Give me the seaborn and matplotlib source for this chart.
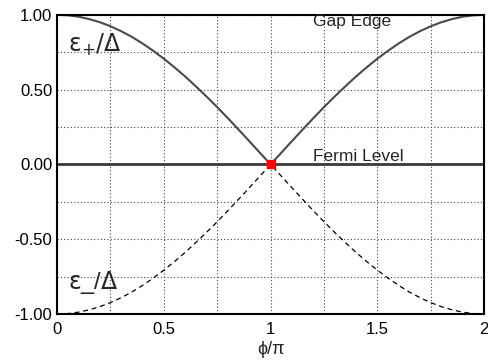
import numpy as np
import pandas as pd
import seaborn as sns
import matplotlib.pyplot as plt
from matplotlib.ticker import MultipleLocator, FixedLocator

# valores
phi = [0.00, 0.05, 0.10, 0.15, 0.20, 0.25, 0.30, 0.35, 0.40, 0.45, 0.50,
       0.55, 0.60, 0.65, 0.70, 0.75, 0.80, 0.85, 0.90, 0.95, 1.00,
       1.05, 1.10, 1.15, 1.20, 1.25, 1.30, 1.35, 1.40, 1.45, 1.50,
       1.55, 1.60, 1.65, 1.70, 1.75, 1.80, 1.85, 1.90, 1.95, 2.00]
gap_edge = [1.000, 0.997, 0.988, 0.972, 0.951, 0.924, 0.891, 0.853, 0.809, 0.760, 0.707,
            0.649, 0.588, 0.522, 0.454, 0.383, 0.309, 0.233, 0.156, 0.078, 0.000,
            0.078, 0.156, 0.233, 0.309, 0.383, 0.454, 0.522, 0.588, 0.649, 0.707,
            0.760, 0.809, 0.853, 0.891, 0.924, 0.951, 0.972, 0.988, 0.997, 1.000]
lower_edge = [-1.000, -0.997, -0.988, -0.972, -0.951, -0.924, -0.891, -0.853, -0.809, -0.760, -0.707,
              -0.649, -0.588, -0.522, -0.454, -0.383, -0.309, -0.233, -0.156, -0.078, 0.000,
              -0.078, -0.156, -0.233, -0.309, -0.383, -0.454, -0.522, -0.588, -0.649, -0.707,
              -0.760, -0.809, -0.853, -0.891, -0.924, -0.951, -0.972, -0.988, -0.997, -1.000]
fermi_x = [0.0, 2.0]
fermi_y = [0.0, 0.0]
cross_x = [1.0]
cross_y = [0.0]

x_ticks = [0, 0.5, 1, 1.5, 2]
x_labels = ["0", "0.5", "1", "1.5", "2"]
y_ticks = [-1.0, -0.5, 0.0, 0.5, 1.0]
y_labels = ["-1.00", "-0.50", "0.00", "0.50", "1.00"]

df = pd.DataFrame({"phi": phi, "upper": gap_edge, "lower": lower_edge})

sns.set_style("white")
plt.rcParams['font.family'] = ['Liberation Sans', 'DejaVu Sans']
plt.rcParams['mathtext.fontset'] = 'dejavusans'

fig = plt.figure(figsize=(4.88, 3.63), dpi=100)
ax = fig.add_axes([0.117, 0.135, 0.875, 0.824])

sns.lineplot(data=df, x="phi", y="upper", ax=ax, color="#4a4a4a", linewidth=1.5)
sns.lineplot(data=df, x="phi", y="lower", ax=ax, color="black", linewidth=0.9,
             linestyle=(0, (4, 3)))
sns.lineplot(x=fermi_x, y=fermi_y, ax=ax, color="#3a3a3a", linewidth=2.0)
ax.plot(cross_x, cross_y, marker="s", color="red", markersize=6, linestyle="none", zorder=5)

ax.set_xlim(0, 2)
ax.set_ylim(-1, 1)
ax.xaxis.set_major_locator(FixedLocator(x_ticks))
ax.set_xticklabels(x_labels)
ax.yaxis.set_major_locator(FixedLocator(y_ticks))
ax.set_yticklabels(y_labels)
ax.xaxis.set_minor_locator(MultipleLocator(0.25))
ax.yaxis.set_minor_locator(MultipleLocator(0.25))
ax.grid(True, which="both", color="#444444", linestyle=(0, (1, 2)), linewidth=0.8)
ax.tick_params(which="both", direction="in", length=5, width=1, labelsize=12,
               colors="black", top=False, right=False)
ax.tick_params(axis="x", pad=6)
for s in ax.spines.values():
    s.set_visible(True)
    s.set_color("black")
    s.set_linewidth(1.5)

ax.set_xlabel("ϕ/π", fontsize=13, labelpad=3)
ax.set_ylabel("")

ax.text(1.2, 0.955, "Gap Edge", fontsize=12.5, va="center", ha="left")
ax.text(1.2, 0.05, "Fermi Level", fontsize=12.5, va="center", ha="left")
ax.text(0.05, 0.80, r"$\mathrm{\epsilon}_{+}/\Delta$", fontsize=17, va="center", ha="left")
ax.text(0.05, -0.79, r"$\mathrm{\epsilon}$_/$\Delta$", fontsize=17, va="center", ha="left")

fig.savefig("out.png", dpi=100)
